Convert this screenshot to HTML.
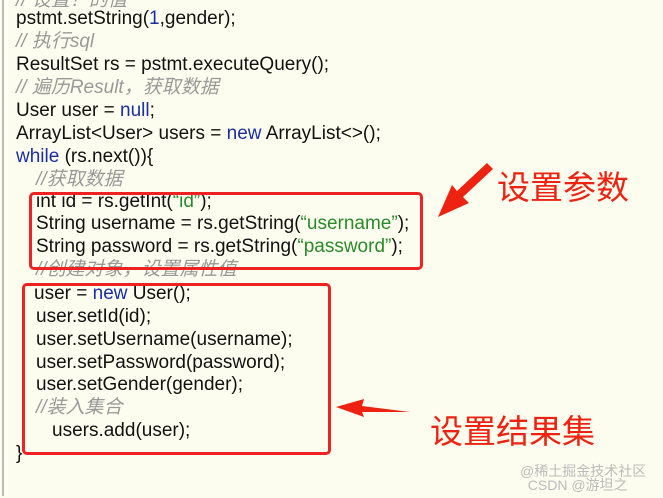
<!DOCTYPE html>
<html><head><meta charset="utf-8"><style>
body{margin:0;width:663px;height:496px;background:#fdfdef;position:relative;overflow:hidden;font-family:"Liberation Sans","Noto Sans CJK SC",sans-serif;}
.l{position:absolute;font-size:19px;color:#111;white-space:pre;line-height:22px;}
.c{color:#999;font-style:italic;}
.k{color:#1a2fa0;}
.g{color:#2a8a2a;}
.box{position:absolute;border:3px solid #ee2222;border-radius:5px;}
.t{position:absolute;color:#ee2211;font-size:33px;white-space:nowrap;font-family:"Noto Sans CJK SC",sans-serif;}
</style></head><body>
<div style="position:absolute;left:2px;top:0;width:2px;height:496px;background:#bbb"></div>
<div style="position:absolute;left:0;top:2px;width:663px;height:496px">
<div class="l c" style="left:16px;top:-12px">// 设置？的值</div>
<div class="l" style="left:16px;top:6px">pstmt.setString(<span class="k">1</span>,gender);</div>
<div class="l c" style="left:16px;top:29px">// 执行sql</div>
<div class="l" style="left:16px;top:52px">ResultSet rs = pstmt.executeQuery();</div>
<div class="l c" style="left:16px;top:75px">// 遍历Result，获取数据</div>
<div class="l" style="left:16px;top:98px">User user = <span class="k">null</span>;</div>
<div class="l" style="left:16px;top:121px">ArrayList&lt;User&gt; users = <span class="k">new</span> ArrayList&lt;&gt;();</div>
<div class="l" style="left:16px;top:144px"><span class="k">while</span> (rs.next()){</div>
<div class="l c" style="left:36px;top:167px">//获取数据</div>
<div class="l" style="left:36px;top:189px">int id = rs.getInt(<span class="g">“id”</span>);</div>
<div class="l" style="left:36px;top:211px">String username = rs.getString(<span class="g">“username”</span>);</div>
<div class="l" style="left:36px;top:234px">String password = rs.getString(<span class="g">“password”</span>);</div>
<div class="l c" style="left:36px;top:257px">//创建对象，设置属性值</div>
<div class="l" style="left:34px;top:281px">user = <span class="k">new</span> User();</div>
<div class="l" style="left:36px;top:304px">user.setId(id);</div>
<div class="l" style="left:36px;top:327px">user.setUsername(username);</div>
<div class="l" style="left:36px;top:350px">user.setPassword(password);</div>
<div class="l" style="left:36px;top:372px">user.setGender(gender);</div>
<div class="l c" style="left:36px;top:395px">//装入集合</div>
<div class="l" style="left:52px;top:418px">users.add(user);</div>
<div class="l" style="left:16px;top:441px">}</div>
</div>
<div class="box" style="left:29px;top:192px;width:388px;height:72px"></div>
<div class="box" style="left:22px;top:283px;width:303px;height:166px"></div>
<svg style="position:absolute;left:0;top:0" width="663" height="496">
<polygon points="493,169 463,197 469,203 438,217 452,185 457,191 487,163" fill="#ee2211"/>
<polygon points="410,412 362,406 364,399 336,407 364,417 362,412" fill="#ee2211"/>
</svg>
<div class="t" style="left:497px;top:161px">设置参数</div>
<div class="t" style="left:430px;top:405px">设置结果集</div>
<div style="position:absolute;left:520px;top:464px;font-size:14px;color:#bbb;line-height:14px">@稀土掘金技术社区<br>&nbsp;&nbsp;CSDN @游坦之</div>
</body></html>
